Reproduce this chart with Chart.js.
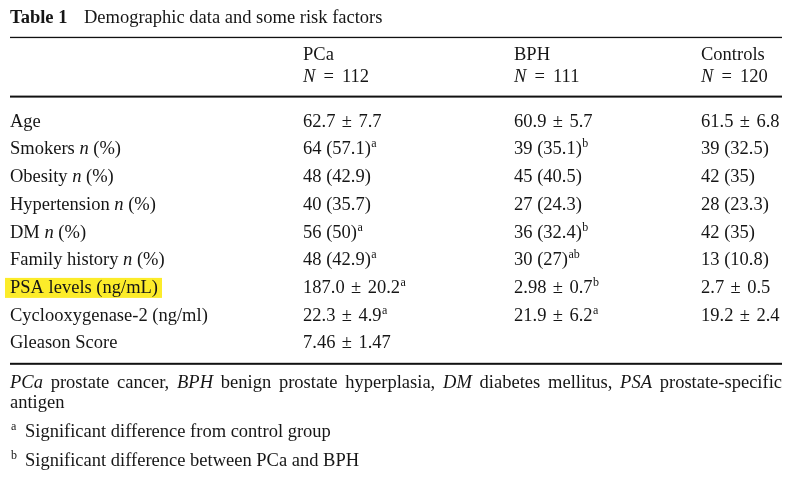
<!DOCTYPE html>
<html><head><meta charset="utf-8">
<script src="https://cdn.jsdelivr.net/npm/chart.js@4.4.1/dist/chart.umd.min.js"></script>
<style>html,body{margin:0;padding:0;background:#fff;}#wrap{width:800px;height:479px;position:relative;}</style>
</head><body><div id="wrap"><canvas id="c"></canvas></div>
<script>
// ---- data ----
const tableLabel = 'Table 1';
const tableTitle = 'Demographic data and some risk factors';
const groupNames = ['PCa', 'BPH', 'Controls'];
const groupSizes = ['112', '111', '120'];
const rowLabels = ['Age', 'Smokers *n* (%)', 'Obesity *n* (%)', 'Hypertension *n* (%)', 'DM *n* (%)',
  'Family history *n* (%)', 'PSA levels (ng/mL)', 'Cyclooxygenase-2 (ng/ml)', 'Gleason Score'];
const pcaValues = ['62.7 ± 7.7', '64 (57.1)^{a}', '48 (42.9)', '40 (35.7)', '56 (50)^{a}',
  '48 (42.9)^{a}', '187.0 ± 20.2^{a}', '22.3 ± 4.9^{a}', '7.46 ± 1.47'];
const bphValues = ['60.9 ± 5.7', '39 (35.1)^{b}', '45 (40.5)', '27 (24.3)', '36 (32.4)^{b}',
  '30 (27)^{ab}', '2.98 ± 0.7^{b}', '21.9 ± 6.2^{a}', ''];
const controlValues = ['61.5 ± 6.8', '39 (32.5)', '42 (35)', '28 (23.3)', '42 (35)',
  '13 (10.8)', '2.7 ± 0.5', '19.2 ± 2.4', ''];
const highlightedRows = ['PSA levels (ng/mL)'];
const captionLine1 = '*PCa* prostate cancer, *BPH* benign prostate hyperplasia, *DM* diabetes mellitus, *PSA* prostate-specific';
const captionLine2 = 'antigen';
const footnoteMarks = ['a', 'b'];
const footnoteTexts = ['Significant difference from control group', 'Significant difference between PCa and BPH'];

// ---- layout / style ----
const FONT = '"Liberation Serif", "Times New Roman", serif';
const SIZE = 18.5, SUP = 12;
const INK = '#161616';
const colX = [10, 303, 514, 701];
const firstRowY = 126.7, rowStep = 27.7, H = 479;
const yMin = -firstRowY / rowStep, yMax = yMin + H / rowStep;
const opPad = { '±': 1.8, '=': 3.5 };

function parse(s) {
  const parts = s.split(/(\*[^*]+\*|\^\{[^}]+\}|[±=])/).filter(p => p.length);
  return parts.map(p => {
    if (p.startsWith('^{')) return { t: p.slice(2, -1), sup: true };
    if (p.length > 1 && p.startsWith('*')) return { t: p.slice(1, -1), it: true };
    if (opPad[p] !== undefined) return { t: p, pad: opPad[p] };
    return { t: p };
  });
}
function fontFor(seg, bold) {
  return (seg.it ? 'italic ' : '') + (bold ? 'bold ' : '') + (seg.sup ? SUP : SIZE) + 'px ' + FONT;
}
function segW(ctx, seg) {
  ctx.font = fontFor(seg);
  return ctx.measureText(seg.t).width + (seg.sup ? 0.5 : 0) + 2 * (seg.pad || 0);
}
function measure(ctx, s) {
  return parse(s).reduce((w, seg) => w + segW(ctx, seg), 0);
}
function drawRich(ctx, s, x, y, bold) {
  for (const seg of parse(s)) {
    ctx.font = fontFor(seg, bold);
    const px = x + (seg.sup ? 0.5 : 0) + (seg.pad || 0);
    ctx.fillText(seg.t, px, seg.sup ? y - 7 : y);
    x += ctx.measureText(seg.t).width + (seg.sup ? 0.5 : 0) + 2 * (seg.pad || 0);
  }
  return x;
}
function drawJustified(ctx, s, x0, x1, y) {
  const words = s.split(' ');
  const widths = words.map(w => measure(ctx, w));
  const total = widths.reduce((a, b) => a + b, 0);
  const gap = (x1 - x0 - total) / (words.length - 1);
  let x = x0;
  words.forEach((w, i) => { drawRich(ctx, w, x, y); x += widths[i] + gap; });
}

const columns = [rowLabels, pcaValues, bphValues, controlValues];

const tablePlugin = {
  id: 'tablePlugin',
  beforeDatasetsDraw(chart) {
    const ctx = chart.ctx;
    ctx.save();
    ctx.fillStyle = '#fff';
    ctx.fillRect(0, 0, chart.width, chart.height);
    // highlight
    const ys = chart.scales.y;
    rowLabels.forEach((lab, i) => {
      if (highlightedRows.includes(lab)) {
        const by = ys.getPixelForValue(i);
        const w = measure(ctx, lab);
        ctx.fillStyle = '#fcec2a';
        ctx.fillRect(colX[0] - 5, by - 15, w + 9, 20);
      }
    });
    ctx.fillStyle = INK;
    ctx.textBaseline = 'alphabetic';
    // title
    ctx.font = 'bold ' + SIZE + 'px ' + FONT;
    ctx.fillText(tableLabel, 10, 23);
    ctx.font = SIZE + 'px ' + FONT;
    ctx.fillText(tableTitle, 84, 23);
    // rules
    ctx.fillStyle = '#111';
    ctx.fillRect(10, 36.8, 772, 1.3);
    ctx.fillRect(10, 95.6, 772, 2);
    ctx.fillRect(10, 362.8, 772, 2);
    ctx.fillStyle = INK;
    // header
    groupNames.forEach((g, i) => {
      drawRich(ctx, g, colX[i + 1], 60);
      drawRich(ctx, '*N* = ' + groupSizes[i], colX[i + 1], 81.5);
    });
    // caption
    drawJustified(ctx, captionLine1, 10, 782, 388);
    drawRich(ctx, captionLine2, 10, 408);
    footnoteMarks.forEach((m, i) => {
      const y = 437 + i * 28.5;
      ctx.font = SUP + 'px ' + FONT;
      ctx.fillText(m, 11, y - 7);
      drawRich(ctx, footnoteTexts[i], 25, y);
    });
    ctx.restore();
  },
  afterDatasetsDraw(chart) {
    const ctx = chart.ctx;
    ctx.save();
    ctx.fillStyle = INK;
    ctx.textBaseline = 'alphabetic';
    chart.data.datasets.forEach((ds, di) => {
      const meta = chart.getDatasetMeta(di);
      meta.data.forEach((el, i) => {
        const txt = ds.cellText[i];
        if (txt) drawRich(ctx, txt, el.x, el.y);
      });
    });
    ctx.restore();
  }
};

new Chart(document.getElementById('c'), {
  type: 'scatter',
  data: {
    datasets: columns.map((col, c) => ({
      label: c === 0 ? 'label' : groupNames[c - 1],
      data: col.map((_, i) => ({ x: colX[c], y: i })),
      cellText: col,
      pointRadius: 0,
      pointHoverRadius: 0
    }))
  },
  options: {
    responsive: true,
    maintainAspectRatio: false,
    animation: false,
    events: [],
    layout: { padding: 0 },
    plugins: { legend: { display: false }, tooltip: { enabled: false }, title: { display: false } },
    scales: {
      x: { type: 'linear', display: false, min: 0, max: 800 },
      y: { type: 'linear', display: false, min: yMin, max: yMax, reverse: true }
    }
  },
  plugins: [tablePlugin]
});
</script>
</body></html>
